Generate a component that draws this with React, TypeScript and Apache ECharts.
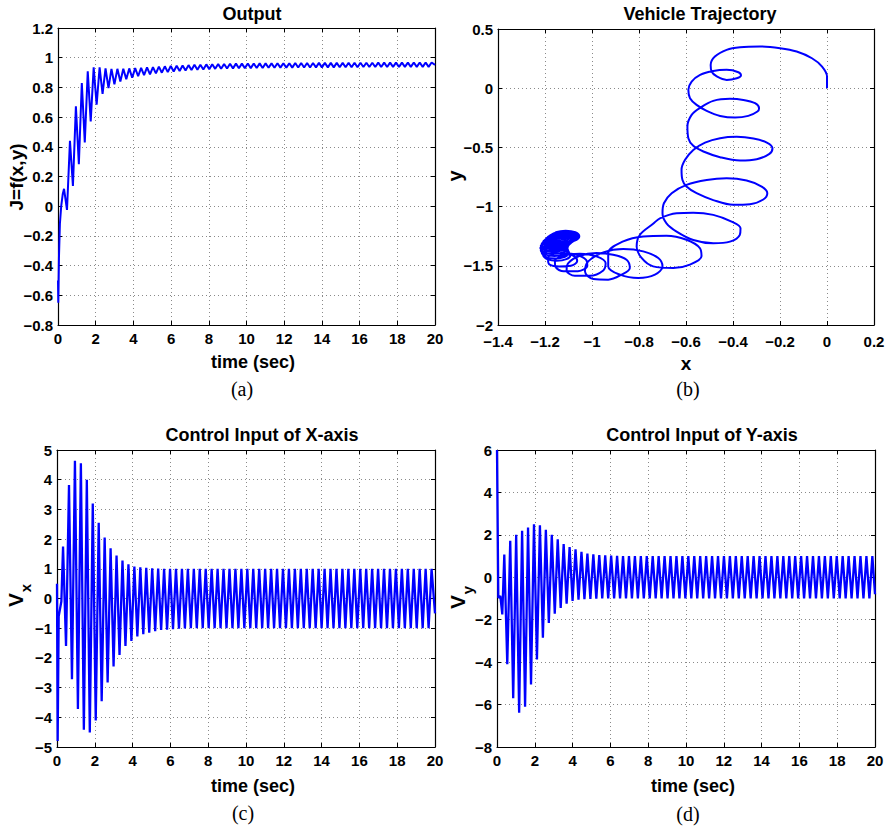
import React, { useEffect, useRef } from "react";
import * as echarts from "echarts";

// ---------- data ----------
// (a) Output J: initial transient, then alternating peaks / troughs
const jStart = [[0, -0.5], [0.015, -0.65], [0.05, -0.35], [0.1, -0.12], [0.17, 0.0], [0.25, 0.08]];
const jFirstPeakTime = 0.32;
const jHalfPeriod = 0.15725;
const jPeaks = [
  0.117, 0.44, 0.672, 0.83, 0.908, 0.935, 0.935, 0.928, 0.925, 0.925,
  0.926, 0.928, 0.93, 0.932, 0.935, 0.937, 0.94, 0.942, 0.944, 0.946,
  0.948, 0.95, 0.952, 0.953, 0.955, 0.956, 0.957, 0.958, 0.959, 0.96,
  0.96, 0.961, 0.961, 0.962, 0.962, 0.962, 0.963, 0.963, 0.963, 0.964,
  0.964, 0.964, 0.964, 0.965, 0.965, 0.965, 0.965, 0.965, 0.966, 0.966,
  0.966, 0.966, 0.966, 0.967, 0.967, 0.967, 0.967, 0.967, 0.967, 0.968,
  0.968, 0.968, 0.968,
];
const jTroughs = [
  -0.025, 0.137, 0.283, 0.43, 0.571, 0.683, 0.757, 0.795, 0.82, 0.84,
  0.855, 0.865, 0.875, 0.882, 0.888, 0.894, 0.899, 0.903, 0.907, 0.911,
  0.914, 0.917, 0.919, 0.921, 0.923, 0.925, 0.926, 0.927, 0.928, 0.929,
  0.93, 0.93, 0.931, 0.931, 0.932, 0.932, 0.933, 0.933, 0.933, 0.934,
  0.934, 0.934, 0.935, 0.935, 0.935, 0.935, 0.936, 0.936, 0.936, 0.936,
  0.937, 0.937, 0.937, 0.937, 0.937, 0.938, 0.938, 0.938, 0.938, 0.938,
  0.938, 0.938,
];
const jEnd = [20, 0.952];

// (c) Control input Vx
const vxStart = [[0, 0.5], [0.035, -4.8], [0.09, -0.6], [0.23, -0.1]];
const vxFirstPeakTime = 0.32;
const vxHalfPeriod = 0.15725;
const vxPeaks = [
  1.75, 3.82, 4.64, 4.55, 4.0, 3.2, 2.55, 2.05, 1.69, 1.45,
  1.28, 1.15, 1.08, 1.05, 1.03, 1.02, 1.01,
  1, 1, 1, 1, 1, 1, 1, 1, 1, 1,
  1, 1, 1, 1, 1, 1, 1, 1, 1, 1,
  1, 1, 1, 1, 1, 1, 1, 1, 1, 1,
  1, 1, 1, 1, 1, 1, 1, 1, 1, 1,
  1, 1, 1, 1, 1, 1,
];
const vxTroughs = [
  -1.6, -2.72, -3.72, -4.42, -4.51, -4.11, -3.46, -2.83, -2.29, -1.9,
  -1.6, -1.43, -1.28, -1.2, -1.15, -1.1, -1.06, -1.05, -1.03, -1.02,
  -1.01,
  -1, -1, -1, -1, -1, -1, -1, -1, -1, -1,
  -1, -1, -1, -1, -1, -1, -1, -1, -1, -1,
  -1, -1, -1, -1, -1, -1, -1, -1, -1, -1,
  -1, -1, -1, -1, -1, -1, -1, -1, -1, -1,
  -1,
];
const vxEnd = [20, -0.5];

// (d) Control input Vy
const vyStart = [[0, 6], [0.07, -0.97], [0.175, -0.88], [0.28, -1.75]];
const vyFirstPeakTime = 0.386;
const vyHalfPeriod = 0.15705;
const vyPeaks = [
  1.07, 1.72, 2.0, 2.19, 2.35, 2.5, 2.45, 2.24, 2.0, 1.79,
  1.57, 1.42, 1.32, 1.2, 1.12, 1.08, 1.05, 1.03, 1.02, 1.01,
  1, 1, 1, 1, 1, 1, 1, 1, 1, 1,
  1, 1, 1, 1, 1, 1, 1, 1, 1, 1,
  1, 1, 1, 1, 1, 1, 1, 1, 1, 1,
  1, 1, 1, 1, 1, 1, 1, 1, 1, 1,
  1, 1, 1,
];
const vyTroughs = [
  -4.1, -5.7, -6.38, -6.1, -5.05, -3.87, -2.85, -2.15, -1.72, -1.44,
  -1.25, -1.12, -1.06, -1.03, -1.02, -1.01,
  -1, -1, -1, -1, -1, -1, -1, -1, -1, -1,
  -1, -1, -1, -1, -1, -1, -1, -1, -1, -1,
  -1, -1, -1, -1, -1, -1, -1, -1, -1, -1,
  -1, -1, -1, -1, -1, -1, -1, -1, -1, -1,
  -1, -1, -1, -1, -1, -1,
];
const vyEnd = [20, -0.8];

// (b) Vehicle trajectory: traced path (x, y)
const trajectoryTransient = [
  [0, 0], [0, 0.099], [-0.021, 0.183], [-0.064, 0.253], [-0.129, 0.31], [-0.2, 0.338], [-0.285, 0.352],
  [-0.37, 0.346], [-0.427, 0.324], [-0.477, 0.267], [-0.495, 0.197], [-0.491, 0.141],
  [-0.469, 0.099], [-0.427, 0.07], [-0.384, 0.084], [-0.366, 0.107], [-0.377, 0.135], [-0.427, 0.155],
  [-0.484, 0.146], [-0.54, 0.113], [-0.576, 0.056], [-0.59, -0.014], [-0.583, -0.084], [-0.555, -0.141],
  [-0.512, -0.191], [-0.455, -0.234], [-0.391, -0.248], [-0.335, -0.234], [-0.296, -0.197], [-0.289, -0.169],
  [-0.306, -0.127], [-0.356, -0.099], [-0.413, -0.09], [-0.484, -0.107], [-0.538, -0.163], [-0.576, -0.225],
  [-0.594, -0.324], [-0.59, -0.422], [-0.569, -0.487], [-0.526, -0.535], [-0.455, -0.583], [-0.37, -0.611],
  [-0.299, -0.6], [-0.245, -0.555], [-0.232, -0.507], [-0.256, -0.459], [-0.313, -0.425], [-0.384, -0.411],
  [-0.455, -0.422], [-0.519, -0.459], [-0.569, -0.521], [-0.604, -0.605], [-0.619, -0.69], [-0.615, -0.775],
  [-0.598, -0.831], [-0.555, -0.887], [-0.484, -0.945], [-0.399, -0.985], [-0.328, -0.98], [-0.271, -0.94],
  [-0.254, -0.887], [-0.278, -0.831], [-0.342, -0.78], [-0.427, -0.761], [-0.512, -0.775], [-0.598, -0.817],
  [-0.661, -0.887], [-0.694, -0.972], [-0.7, -1.056], [-0.683, -1.141], [-0.64, -1.211], [-0.569, -1.282],
  [-0.484, -1.31], [-0.413, -1.296], [-0.371, -1.239], [-0.368, -1.183], [-0.406, -1.127], [-0.484, -1.07],
  [-0.569, -1.051], [-0.64, -1.056], [-0.711, -1.099], [-0.74, -1.145], [-0.796, -1.238], [-0.81, -1.336],
  [-0.789, -1.434], [-0.74, -1.505], [-0.654, -1.519], [-0.583, -1.49], [-0.534, -1.42], [-0.541, -1.35],
  [-0.598, -1.28], [-0.683, -1.246], [-0.782, -1.252], [-0.867, -1.294], [-0.931, -1.393], [-0.931, -1.505],
  [-0.881, -1.575], [-0.803, -1.603], [-0.732, -1.575], [-0.7, -1.505], [-0.718, -1.434], [-0.782, -1.378],
  [-0.867, -1.358], [-0.952, -1.387], [-1.016, -1.463], [-1.03, -1.547], [-0.994, -1.612], [-0.931, -1.617],
  [-0.874, -1.575], [-0.839, -1.519], [-0.853, -1.449], [-0.91, -1.406], [-0.981, -1.392], [-1.052, -1.415],
  [-1.101, -1.477], [-1.108, -1.539], [-1.073, -1.584], [-1.009, -1.584], [-0.952, -1.539], [-0.942, -1.477],
  [-0.981, -1.42], [-1.052, -1.398], [-1.123, -1.415],
  [-1.158, -1.46], [-1.155, -1.51], [-1.12, -1.547], [-1.06, -1.545], [-1.02, -1.5], [-1.025, -1.45],
  [-1.07, -1.405], [-1.13, -1.395], [-1.18, -1.41],
  [-1.187, -1.45], [-1.18, -1.49], [-1.14, -1.505], [-1.09, -1.5], [-1.063, -1.46], [-1.075, -1.42],
  [-1.12, -1.395], [-1.17, -1.39],
];
const trajectorySettling = [
  [-1.208, -1.41], [-1.191, -1.444], [-1.15, -1.458], [-1.109, -1.444], [-1.092, -1.41], [-1.109, -1.376], [-1.15, -1.362], [-1.191, -1.376],
  [-1.214, -1.39], [-1.197, -1.424], [-1.156, -1.438], [-1.115, -1.424], [-1.098, -1.39], [-1.115, -1.356], [-1.156, -1.342], [-1.197, -1.356],
  [-1.218, -1.37], [-1.201, -1.404], [-1.16, -1.418], [-1.119, -1.404], [-1.102, -1.37], [-1.119, -1.336], [-1.16, -1.322], [-1.201, -1.336],
  [-1.22, -1.35], [-1.203, -1.384], [-1.162, -1.398], [-1.121, -1.384], [-1.104, -1.35], [-1.121, -1.316], [-1.162, -1.302], [-1.203, -1.316],
  [-1.218, -1.332], [-1.201, -1.366], [-1.16, -1.38], [-1.119, -1.366], [-1.102, -1.332], [-1.119, -1.298], [-1.16, -1.284], [-1.201, -1.298],
  [-1.214, -1.316], [-1.197, -1.35], [-1.156, -1.364], [-1.115, -1.35], [-1.098, -1.316], [-1.115, -1.282], [-1.156, -1.268], [-1.197, -1.282],
  [-1.208, -1.302], [-1.191, -1.336], [-1.15, -1.35], [-1.109, -1.336], [-1.092, -1.302], [-1.109, -1.268], [-1.15, -1.254], [-1.191, -1.268],
  [-1.202, -1.29], [-1.185, -1.324], [-1.144, -1.338], [-1.103, -1.324], [-1.086, -1.29], [-1.103, -1.256], [-1.144, -1.242], [-1.185, -1.256],
  [-1.196, -1.28], [-1.179, -1.314], [-1.138, -1.328], [-1.097, -1.314], [-1.08, -1.28], [-1.097, -1.246], [-1.138, -1.232], [-1.179, -1.246],
  [-1.19, -1.271], [-1.173, -1.305], [-1.132, -1.319], [-1.091, -1.305], [-1.074, -1.271], [-1.091, -1.237], [-1.132, -1.223], [-1.173, -1.237],
  [-1.184, -1.264], [-1.167, -1.298], [-1.126, -1.312], [-1.085, -1.298], [-1.068, -1.264], [-1.085, -1.23], [-1.126, -1.216], [-1.167, -1.23],
  [-1.178, -1.258], [-1.161, -1.292], [-1.12, -1.306], [-1.079, -1.292], [-1.062, -1.258], [-1.079, -1.224], [-1.12, -1.21], [-1.161, -1.224],
  [-1.173, -1.254], [-1.156, -1.288], [-1.115, -1.302], [-1.074, -1.288], [-1.057, -1.254], [-1.074, -1.22], [-1.115, -1.206], [-1.156, -1.22],
  [-1.17, -1.251], [-1.153, -1.285], [-1.112, -1.299], [-1.071, -1.285], [-1.054, -1.251], [-1.071, -1.217], [-1.112, -1.203], [-1.153, -1.217],
  [-1.17, -1.251],
];

// axis ranges / ticks: [min, max, interval]
const axisA = { x: [0, 20, 2], y: [-0.8, 1.2, 0.2] };
const axisB = { x: [-1.4, 0.2, 0.2], y: [-2, 0.5, 0.5] };
const axisC = { x: [0, 20, 2], y: [-5, 5, 1] };
const axisD = { x: [0, 20, 2], y: [-8, 6, 2] };

const titles = ["Output", "Vehicle Trajectory", "Control Input of X-axis", "Control Input of Y-axis"];
const xNames = ["time (sec)", "x", "time (sec)", "time (sec)"];
const captions = ["(a)", "(b)", "(c)", "(d)"];

// ---------- helpers ----------
function buildSeries(start: number[][], firstT: number, half: number, peaks: number[], troughs: number[], end: number[]) {
  const out: number[][] = start.map((p) => [p[0], p[1]]);
  for (let i = 0; i < peaks.length; i++) {
    out.push([firstT + 2 * i * half, peaks[i]]);
    if (i < troughs.length) out.push([firstT + (2 * i + 1) * half, troughs[i]]);
  }
  out.push(end);
  return out;
}

const FONT = '"Liberation Sans", Arial, Helvetica, sans-serif';
const SERIF = '"Liberation Serif", "Times New Roman", serif';

const fmt = (v: number) => String(parseFloat(v.toFixed(4))).replace("-", "\u2212");

export default function App() {
  const ref = useRef<HTMLDivElement>(null);
  useEffect(() => {
    if (!ref.current) return;
    const chart = echarts.init(ref.current, undefined, { renderer: "svg" });

    const grids = [
      { left: 58, top: 28, width: 377, height: 297 },
      { left: 498, top: 29, width: 376, height: 296 },
      { left: 57, top: 450, width: 378, height: 297 },
      { left: 497, top: 450, width: 378, height: 297 },
    ];
    const specs = [axisA, axisB, axisC, axisD];
    const xMargins = [6, 9, 6, 6];

    const xAxes: any[] = [];
    const yAxes: any[] = [];
    specs.forEach((s, i) => {
      const common = (r: number[]) => ({
        type: "value",
        gridIndex: i,
        min: r[0],
        max: r[1],
        interval: r[2],
        axisLine: { onZero: false, lineStyle: { color: "#000", width: 1.2 } },
        axisTick: { inside: true, length: 4, lineStyle: { color: "#000", width: 1 } },
      });
      xAxes.push({
        ...common(s.x),
        position: "bottom",
        axisLabel: {
          color: "#000", fontSize: 15, fontWeight: "bold", fontFamily: FONT, margin: xMargins[i],
          showMinLabel: true, showMaxLabel: true, formatter: fmt,
        },
        splitLine: { show: true, lineStyle: { color: "#8a8a8a", type: [1, 3], width: 1 } },
      });
      xAxes.push({ ...common(s.x), position: "top", axisLabel: { show: false }, splitLine: { show: false } });
      yAxes.push({
        ...common(s.y),
        position: "left",
        axisLabel: {
          color: "#000", fontSize: 15, fontWeight: "bold", fontFamily: FONT, margin: 5,
          showMinLabel: true, showMaxLabel: true, formatter: fmt,
        },
        splitLine: { show: true, lineStyle: { color: "#8a8a8a", type: [1, 3], width: 1 } },
      });
      yAxes.push({ ...common(s.y), position: "right", axisLabel: { show: false }, splitLine: { show: false } });
    });

    const lineSeries = (i: number, data: number[][], width: number, extra: any = {}) => ({
      type: "line",
      xAxisIndex: 2 * i,
      yAxisIndex: 2 * i,
      data,
      symbol: "none",
      showSymbol: false,
      clip: true,
      silent: true,
      lineStyle: { color: "#0000ff", width },
      ...extra,
    });

    const jData = buildSeries(jStart, jFirstPeakTime, jHalfPeriod, jPeaks, jTroughs, jEnd);
    const vxData = buildSeries(vxStart, vxFirstPeakTime, vxHalfPeriod, vxPeaks, vxTroughs, vxEnd);
    const vyData = buildSeries(vyStart, vyFirstPeakTime, vyHalfPeriod, vyPeaks, vyTroughs, vyEnd);
    const trajData = [...trajectoryTransient, ...trajectorySettling];

    const txt = (x: number, y: number, text: string, font: string, extra: any = {}) => ({
      type: "text",
      x,
      y,
      silent: true,
      ...extra,
      style: { text, font, fill: "#000", textAlign: "center", textVerticalAlign: "middle", align: "center", verticalAlign: "middle" },
    });
    const bold = (s: number) => `bold ${s}px ${FONT}`;

    const graphics: any[] = [
      txt(252, 14, titles[0], bold(18)),
      txt(700, 14, titles[1], bold(18)),
      txt(262, 435, titles[2], bold(18)),
      txt(702, 435, titles[3], bold(18)),
      txt(253, 362, xNames[0], bold(18)),
      txt(686, 363, xNames[1], bold(19)),
      txt(253, 786, xNames[2], bold(18)),
      txt(693, 786, xNames[3], bold(18)),
      txt(16, 177, "J=f(x,y)", bold(19), { rotation: Math.PI / 2 }),
      txt(455, 176, "y", bold(20), { rotation: Math.PI / 2 }),
      {
        type: "group", x: 18, y: 595, rotation: Math.PI / 2, silent: true,
        children: [txt(-5, -3, "V", bold(21)), txt(7, 7, "x", bold(15))],
      },
      {
        type: "group", x: 460, y: 597, rotation: Math.PI / 2, silent: true,
        children: [txt(-5, -3, "V", bold(21)), txt(7, 7, "y", bold(15))],
      },
      txt(242, 389, captions[0], `20px ${SERIF}`),
      txt(688, 389, captions[1], `20px ${SERIF}`),
      txt(243, 813, captions[2], `20px ${SERIF}`),
      txt(688, 814, captions[3], `20px ${SERIF}`),
    ];

    chart.setOption({
      animation: false,
      backgroundColor: "#fff",
      grid: grids,
      xAxis: xAxes,
      yAxis: yAxes,
      series: [
        lineSeries(0, jData, 2),
        lineSeries(1, trajData, 2, { smooth: 0.35 }),
        lineSeries(2, vxData, 2.3),
        lineSeries(3, vyData, 2.3),
      ],
      graphic: graphics,
    });
    return () => chart.dispose();
  }, []);
  return <div ref={ref} style={{ position: "absolute", left: 0, top: 0, width: 890, height: 827 }} />;
}
